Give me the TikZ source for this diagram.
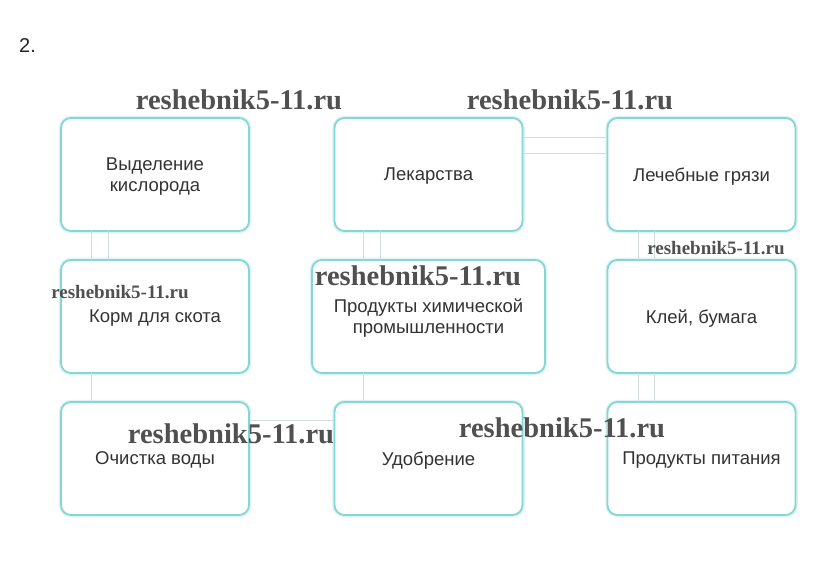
\documentclass[tikz,border=0pt]{standalone}
\usepackage{fontspec}
\setmainfont{Liberation Sans}
\newfontfamily\wmfont{Liberation Serif}
\definecolor{boxcol}{HTML}{86D6D6}
\definecolor{glowcol}{HTML}{DDF3F3}
\definecolor{linecol}{HTML}{D2DCDC}
\definecolor{txtcol}{HTML}{333333}
\definecolor{wmcol}{HTML}{505050}
\begin{document}
\begin{tikzpicture}[x=1pt,y=-1pt,
  boxnode/.style={draw=boxcol,line width=1.8pt,rounded corners=10pt,fill=white,
    minimum width=188pt,minimum height=113pt,align=center,text=txtcol,
    font=\fontsize{18.5}{21}\selectfont,inner sep=0pt,text depth=0pt,
    preaction={draw=glowcol,line width=4.5pt}},
  conn/.style={draw=linecol,line width=1pt},
  wmbig/.style={text=wmcol,font=\wmfont\bfseries\fontsize{28.5}{28.5}\selectfont,inner sep=0pt},
  wmsmall/.style={text=wmcol,font=\wmfont\bfseries\fontsize{19}{19}\selectfont,inner sep=0pt}]
\useasboundingbox (0,0) rectangle (840,565);
\fill[white] (0,0) rectangle (840,565);

\node[anchor=west,text=black!85,font=\fontsize{20}{20}\selectfont,inner sep=0pt] (num) at (19,46) {2.};

\coordinate (pA) at (155,174.5);
\coordinate (pB) at (428.5,174.5);
\coordinate (pC) at (701.5,174.5);
\coordinate (pD) at (155,316.5);
\coordinate (pE) at (428.5,316.5);
\coordinate (pF) at (701.5,316.5);
\coordinate (pG) at (155,458.5);
\coordinate (pH) at (428.5,458.5);
\coordinate (pI) at (701.5,458.5);

\node[boxnode] (A) at (pA) {Выделение\\кислорода};
\node[boxnode] (B) at (pB) {Лекарства};
\node[boxnode] (C) at (pC) {Лечебные грязи};
\node[boxnode,minimum width=233pt] (E) at (pE) {Продукты химической\\промышленности};
\node[boxnode] (D) at (pD) {Корм для скота};
\node[boxnode] (F) at (pF) {Клей, бумага};
\node[boxnode] (G) at (pG) {Очистка воды};
\node[boxnode] (H) at (pH) {Удобрение};
\node[boxnode] (I) at (pI) {Продукты питания};

\draw[conn] ([xshift=-64pt,yshift=1pt]A.south) -- ([xshift=-64pt,yshift=-1pt]D.north);
\draw[conn] ([xshift=-47pt,yshift=1pt]A.south) -- ([xshift=-47pt,yshift=-1pt]D.north);
\draw[conn] ([xshift=-64pt,yshift=1pt]D.south) -- ([xshift=-64pt,yshift=-1pt]G.north);
\draw[conn] ([xshift=-65.5pt,yshift=1pt]B.south) -- ([xshift=-65.5pt,yshift=-1pt]E.north);
\draw[conn] ([xshift=-48.5pt,yshift=1pt]B.south) -- ([xshift=-48.5pt,yshift=-1pt]E.north);
\draw[conn] ([xshift=-65.5pt,yshift=1pt]E.south) -- ([xshift=-65.5pt,yshift=-1pt]H.north);
\draw[conn] ([xshift=-63.5pt,yshift=1pt]C.south) -- ([xshift=-63.5pt,yshift=-1pt]F.north);
\draw[conn] ([xshift=-47.5pt,yshift=1pt]C.south) -- ([xshift=-47.5pt,yshift=-1pt]F.north);
\draw[conn] ([xshift=-63.5pt,yshift=1pt]F.south) -- ([xshift=-63.5pt,yshift=-1pt]I.north);
\draw[conn] ([xshift=-47.5pt,yshift=1pt]F.south) -- ([xshift=-47.5pt,yshift=-1pt]I.north);
\draw[conn] ([yshift=37.5pt,xshift=1pt]B.east) -- ([yshift=37.5pt,xshift=-1pt]C.west);
\draw[conn] ([yshift=21.5pt,xshift=1pt]B.east) -- ([yshift=21.5pt,xshift=-1pt]C.west);
\draw[conn] ([yshift=38.5pt,xshift=1pt]G.east) -- ([yshift=38.5pt,xshift=-1pt]H.west);

\node[wmbig] (w1) at (239,100) {reshebnik5-11.ru};
\node[wmbig] (w2) at (570,100) {reshebnik5-11.ru};
\node[wmsmall] (w3) at (716,248) {reshebnik5-11.ru};
\node[wmsmall] (w4) at (120,292) {reshebnik5-11.ru};
\node[wmbig] (w5) at (418,276) {reshebnik5-11.ru};
\node[wmbig] (w6) at (231,434) {reshebnik5-11.ru};
\node[wmbig] (w7) at (562,428) {reshebnik5-11.ru};
\end{tikzpicture}
\end{document}
